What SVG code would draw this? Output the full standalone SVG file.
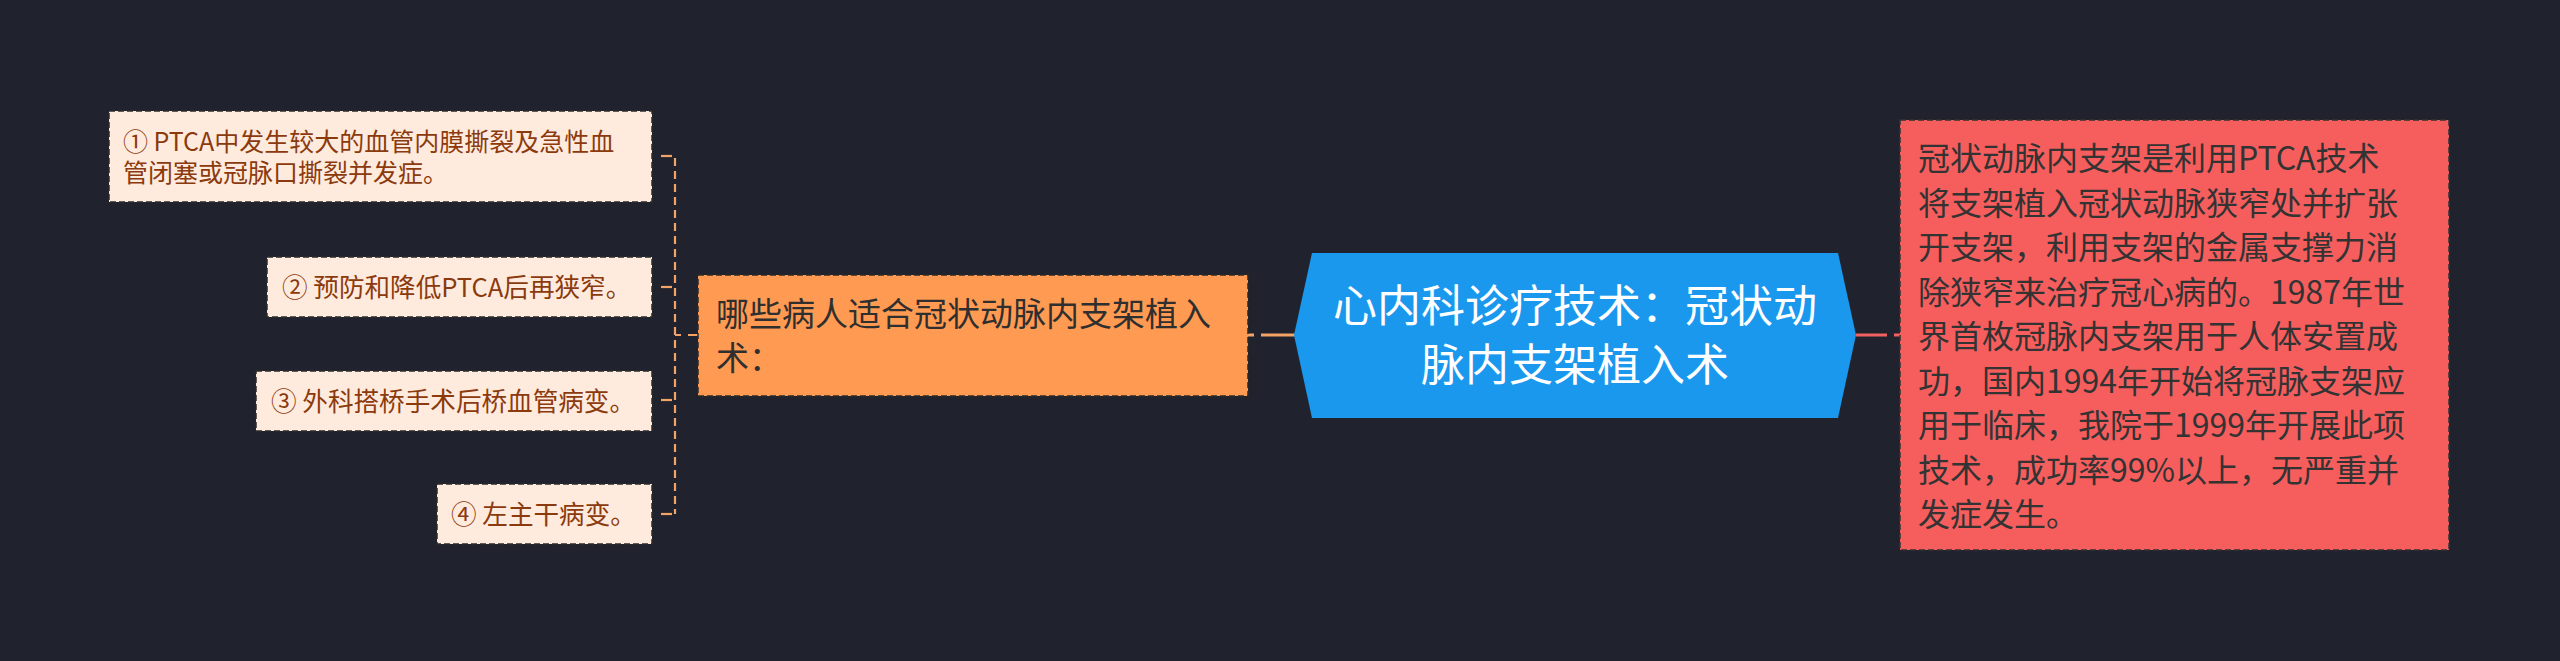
<svg xmlns="http://www.w3.org/2000/svg" width="2560" height="661" viewBox="0 0 2560 661">
<style>
text{font-family:"Noto Sans CJK SC","Noto Sans",sans-serif;}
.leaf rect{fill:#FFEBDD;stroke:#2b2b2b;stroke-width:1.5;stroke-dasharray:6 3;}
.leaf text{fill:#8B3A0E;font-size:25.6px;}
.leaf text.l1{font-size:25px;}
.mid rect{fill:#FF9A52;stroke:#2b2b2b;stroke-width:1.5;stroke-dasharray:6 3;}
.mid text{fill:#2f2f2f;font-size:33px;}
.red rect{fill:#F65E5E;stroke:#333;stroke-width:1.5;stroke-dasharray:6 3;}
.red text{fill:#333333;font-size:32px;}
.center polygon{fill:#1A98EE;}
.center text{fill:#ffffff;font-size:44px;text-anchor:middle;}
.conn-leaf{stroke:#F2A365;stroke-width:2.2;fill:none;}
.dashv{stroke-dasharray:8 5;}
.conn-mid{stroke:#F2A365;stroke-width:3;fill:none;}
.conn-red{stroke:#F06262;stroke-width:3;fill:none;}
</style>
<rect width="2560" height="661" fill="#20232E"/>
<g id="connectors">
  <path class="conn-leaf dashv" d="M675,158 V514"/>
  <path class="conn-leaf" d="M661,156 H672"/>
  <path class="conn-leaf" d="M661,287 H672"/>
  <path class="conn-leaf" d="M661,400 H672"/>
  <path class="conn-leaf" d="M661,514 H672"/>
  <path class="conn-leaf" d="M675,335 H681 M688,335 H698"/>
  <path class="conn-mid" d="M1248,335 H1254 M1261,335 H1295"/>
  <path class="conn-red" d="M1856,335 H1887 M1894,335 H1900"/>
</g>
<g id="node-center" class="center">
  <polygon points="1294,335 1312,253 1838,253 1856,335 1838,418 1312,418"/>
  <text x="1575" y="322">心内科诊疗技术：冠状动</text>
  <text x="1575" y="381">脉内支架植入术</text>
</g>
<g id="node-mid" class="mid">
  <rect x="698" y="275" width="550" height="121"/>
  <text x="716" y="326">哪些病人适合冠状动脉内支架植入</text>
  <text x="716" y="370">术：</text>
</g>
<g id="node-red" class="red">
  <rect x="1900" y="120" width="549" height="430"/>
  <text x="1918" y="170">冠状动脉内支架是利用PTCA技术</text>
  <text x="1918" y="214.5">将支架植入冠状动脉狭窄处并扩张</text>
  <text x="1918" y="259">开支架，利用支架的金属支撑力消</text>
  <text x="1918" y="303.5">除狭窄来治疗冠心病的。1987年世</text>
  <text x="1918" y="348">界首枚冠脉内支架用于人体安置成</text>
  <text x="1918" y="392.5">功，国内1994年开始将冠脉支架应</text>
  <text x="1918" y="437">用于临床，我院于1999年开展此项</text>
  <text x="1918" y="481.5">技术，成功率99%以上，无严重并</text>
  <text x="1918" y="526">发症发生。</text>
</g>
<g id="leaf-1" class="leaf">
  <rect x="109" y="111" width="543" height="91"/>
  <text class="l1" x="123" y="151">① PTCA中发生较大的血管内膜撕裂及急性血</text>
  <text class="l1" x="123" y="182">管闭塞或冠脉口撕裂并发症。</text>
</g>
<g id="leaf-2" class="leaf">
  <rect x="267" y="257" width="385" height="60"/>
  <text x="282" y="296.5">② 预防和降低PTCA后再狭窄。</text>
</g>
<g id="leaf-3" class="leaf">
  <rect x="256" y="371" width="396" height="60"/>
  <text x="271" y="410.5">③ 外科搭桥手术后桥血管病变。</text>
</g>
<g id="leaf-4" class="leaf">
  <rect x="437" y="484" width="215" height="60"/>
  <text x="451" y="523.5">④ 左主干病变。</text>
</g>
</svg>
